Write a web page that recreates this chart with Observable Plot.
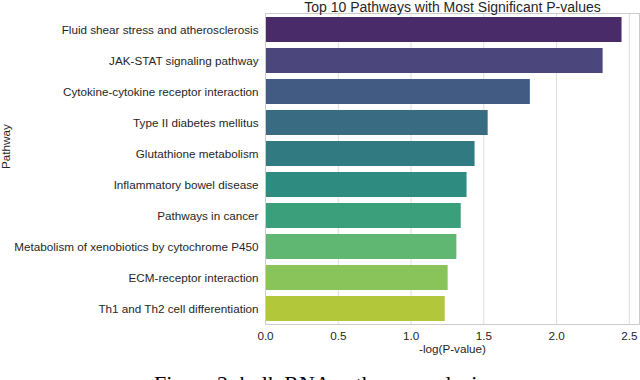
<!DOCTYPE html>
<html>
<head>
<meta charset="utf-8">
<script src="https://cdn.jsdelivr.net/npm/d3@7"></script>
<script src="https://cdn.jsdelivr.net/npm/@observablehq/plot@0.6"></script>
<style>
  html, body { margin: 0; padding: 0; background: #fff; }
  #caption { font-family: "Liberation Serif", "DejaVu Serif", serif; font-size: 22px; text-align: center; color: #000; margin-top: 10px; line-height: 24px; white-space: nowrap; }
</style>
</head>
<body>
<div id="chart"></div>
<div id="caption"></div>
<script>
const title = "Top 10 Pathways with Most Significant P-values";
const xLabel = "-log(P-value)";
const yLabel = "Pathway";
const captionText = "Figure 2: bulk RNA pathway analysis";

const pathways = [
  "Fluid shear stress and atherosclerosis",
  "JAK-STAT signaling pathway",
  "Cytokine-cytokine receptor interaction",
  "Type II diabetes mellitus",
  "Glutathione metabolism",
  "Inflammatory bowel disease",
  "Pathways in cancer",
  "Metabolism of xenobiotics by cytochrome P450",
  "ECM-receptor interaction",
  "Th1 and Th2 cell differentiation"
];
const values = [2.45, 2.32, 1.82, 1.53, 1.44, 1.385, 1.345, 1.315, 1.255, 1.235];
const xTicks = [0, 0.5, 1.0, 1.5, 2.0, 2.5];

// seaborn "viridis" palette (10 colours) desaturated by 0.75 like barplot
const palette = pathways.map((_, i) => {
  const c = d3.hsl(d3.interpolateViridis((i + 1) / (pathways.length + 1)));
  c.s *= 0.75;
  return c.formatHex();
});

const data = pathways.map((p, i) => ({pathway: p, value: values[i], color: palette[i]}));

const chart = Plot.plot({
  width: 640,
  height: 362,
  marginLeft: 265,
  marginRight: 1,
  marginTop: 13,
  marginBottom: 38,
  style: {fontFamily: "'Liberation Sans', Arial, sans-serif", fontSize: "11.7px", color: "#262626", background: "#fff"},
  x: {domain: [0, 2.57], ticks: xTicks, tickFormat: d3.format(".1f"), tickSize: 0, tickPadding: 7, label: null},
  y: {domain: pathways, paddingInner: 0.2, paddingOuter: 0.1, tickSize: 0, tickPadding: 7, label: null},
  marks: [
    Plot.gridX(xTicks, {stroke: "#dddddd", strokeOpacity: 1}),
    Plot.barX(data, {x: "value", y: "pathway", fill: "color"}),
    Plot.frame({stroke: "#cccccc"}),
    Plot.text([title], {frameAnchor: "top", lineAnchor: "bottom", dy: -2, fontSize: 14, fill: "#262626"}),
    Plot.text([xLabel], {frameAnchor: "bottom", lineAnchor: "bottom", dy: 28, fontSize: 11.7, fill: "#262626"}),
    Plot.text([yLabel], {frameAnchor: "left", lineAnchor: "bottom", rotate: -90, dx: -256, fontSize: 11.7, fill: "#262626"})
  ]
});
document.getElementById("chart").appendChild(chart);
document.getElementById("caption").textContent = captionText;
</script>
</body>
</html>
